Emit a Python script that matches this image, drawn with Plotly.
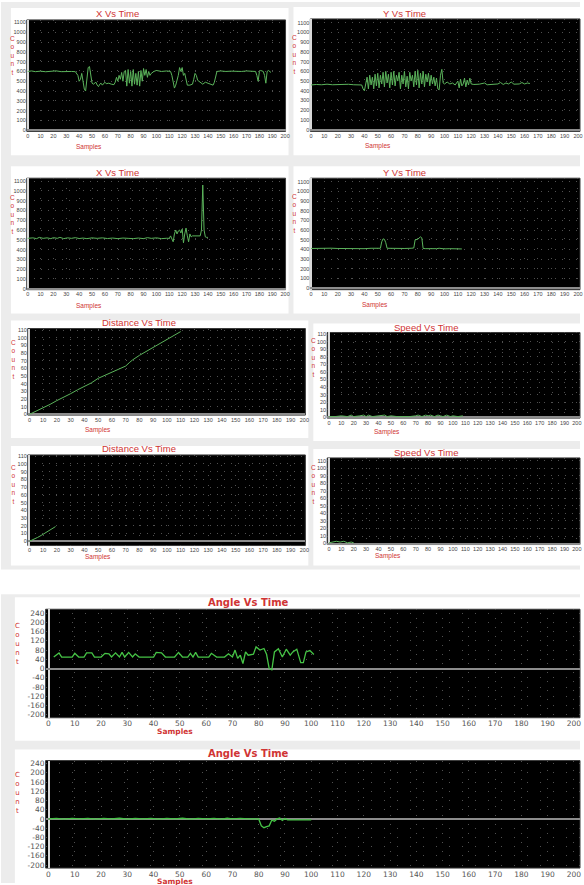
import plotly.graph_objects as go

W, H = 584, 885

# ---------------- data ----------------
x_tick_vals = list(range(0, 201, 10))
x_tick_text = [str(v) for v in x_tick_vals]
count_ticks_big = list(range(0, 1101, 100))
count_text_big = [str(v) for v in count_ticks_big]
count_ticks_small = list(range(0, 111, 10))
count_text_small = [str(v) for v in count_ticks_small]
angle_ticks = list(range(-200, 241, 40))
angle_text = [str(v) for v in angle_ticks]

x1_samples = [0,3,6,10,14,18,22,26,30,34,37,39,40,41,42,43,44,45,46,47,48,49,50,51,53,54,55,56,57,58,60,61,63,65,67,68,69,70,71,72,73,74,75,76,77,78,79,80,81,82,83,84,85,86,87,88,89,90,91,92,93,94,95,96,98,100,104,108,111,112,114,115,116,117,118,119,120,121,122,123,124,126,128,129,130,131,132,133,134,136,138,140,142,144,145,146,147,150,154,158,162,166,170,174,177,178,179,180,181,183,184,185,186,187,188,189]
x1_count = [600,605,598,603,597,602,606,598,602,600,598,560,500,520,580,470,420,400,560,640,650,560,480,470,490,460,445,470,480,460,490,475,480,470,465,490,540,500,560,520,590,500,600,610,450,620,480,600,450,620,470,580,460,600,450,610,500,630,560,620,540,600,560,580,600,610,600,605,600,560,430,460,500,560,640,600,640,560,580,500,460,460,470,520,580,560,510,500,490,470,490,480,470,460,490,560,600,605,600,603,598,600,605,600,600,560,500,600,610,600,560,480,600,610,600,590]

y1_samples = [0,4,8,12,16,20,24,28,32,36,38,39,40,41,42,43,44,45,46,47,48,49,50,51,52,53,54,55,56,57,58,59,60,61,62,63,64,65,66,67,68,69,70,71,72,73,74,75,76,77,78,79,80,81,82,83,84,85,86,87,88,89,90,91,92,93,94,95,96,97,98,99,100,102,104,106,108,110,111,112,113,114,115,116,117,118,119,120,122,126,130,132,136,140,142,144,146,148,150,152,156,158,160,162,164]
y1_count = [460,465,462,468,462,466,463,467,462,465,460,420,400,470,540,420,560,460,540,420,570,450,580,430,560,470,590,440,600,480,570,430,590,460,600,450,560,500,590,420,560,470,600,440,550,420,590,500,560,440,600,460,610,430,580,470,600,440,570,490,580,450,560,470,540,450,530,420,410,560,620,480,470,490,470,480,460,500,430,520,450,470,530,440,510,460,530,470,465,468,480,462,466,470,485,465,480,470,490,468,470,485,470,480,475]

x2_samples = [0,4,7,9,12,15,18,20,23,25,28,31,34,37,40,43,46,50,54,58,62,66,70,74,78,82,86,90,93,96,100,104,108,110,111,112,113,114,115,116,117,118,119,120,121,122,123,124,125,126,127,128,130,132,134,135,136,137,138,139,140]
x2_count = [515,520,512,525,515,520,512,522,515,525,512,520,515,522,513,518,512,520,515,520,513,518,512,518,515,512,518,512,522,515,520,512,516,515,540,500,480,560,600,560,590,600,570,610,470,560,620,540,480,560,530,540,540,540,540,600,1060,600,530,525,525]

y2_samples = [0,5,10,15,20,25,30,35,40,45,50,52,53,54,55,56,57,60,65,70,75,77,78,79,80,81,82,83,84,86,90,94,96,100,104,108,112,113]
y2_count = [410,412,408,413,410,408,412,410,408,412,410,412,480,510,505,470,412,410,412,410,412,415,500,505,505,520,530,520,410,408,405,408,412,406,408,404,406,405]

dist1_samples = [0,5,10,15,20,25,30,35,40,45,50,55,60,65,70,73,75,80,85,90,95,100,105,110]
dist1_value = [0,4,9,13,18,22,27,32,36,41,47,51,55,59,63,68,71,77,82,87,92,98,103,108]

speed1_samples = [0,5,10,15,18,20,25,28,30,32,35,40,45,47,50,55,60,65,70,72,75,78,80,82,85,88,90,92,95,98,100,104,108]
speed1_value = [1,1,2,1,3,1,2,3,1,3,1,2,3,1,2,1,1,1,2,3,1,3,2,3,1,3,2,1,3,1,2,1,2]

dist2_samples = [0,3,6,9,12,15,18,19]
dist2_value = [0,2,5,8,11,14,18,19]

speed2_samples = [0,3,6,9,12,15,18,20]
speed2_value = [1,2,3,2,3,1,2,1]

angle1_samples = [2,4,5,9,10,11.5,13.5,14.5,16.5,17.5,20,21.5,23,24,25.5,27,28,29,30.5,32,33,34.5,40,41,43,44.5,48,49.5,51,53,54,55,56,57,61,62,64,67,68.5,70,71,72,73,74,75,76,78,79,80.5,82,83,84,85,86,87.5,89,90.5,92,93,94.5,96,97,98,99.5,101]
angle1_value = [50,68,50,50,66,50,50,68,68,50,50,66,64,50,68,50,70,50,70,50,64,50,50,70,68,50,50,70,50,50,66,50,70,50,50,66,50,50,64,50,80,44,58,22,72,58,62,94,80,87,62,0,-5,72,86,50,84,58,72,84,26,26,72,78,61]

angle2_samples = [0,3,6,9,12,15,18,21,24,27,30,33,36,39,42,45,48,51,54,57,60,63,66,68,70,73,76,79,80,81,82,83,84,85,86,87,88,89,90,91,93,95,97,100]
angle2_value = [0,2,-1,2,0,2,-1,2,0,3,-1,2,0,2,-1,2,0,3,-1,2,0,2,-1,3,0,2,0,2,0,-30,-38,-33,-30,-5,-10,0,4,-6,2,-4,-3,-5,-4,-4]

# ---------------- layout helpers ----------------
def px(x):
    return x / W

def py(y):
    return 1 - y / H

RED = "#d03434"
NARROW = "Liberation Sans Narrow, Liberation Sans, Arial"
VERD = "DejaVu Sans, Verdana"

panels = [
    dict(t="X Vs Time", xs=x1_samples, ys=x1_count, dx=(26, 287), dy=(18, 130), xr=(-0.7, 200.3), yr=(-13, 1127),
         tv=count_ticks_big, tt=count_text_big, big=False, title=(118, 12), count=(12, 54), samp=(89, 146)),
    dict(t="Y Vs Time", xs=y1_samples, ys=y1_count, dx=(312, 584), dy=(17, 130), xr=(-0.5, 201.5), yr=(-17, 1138),
         tv=count_ticks_big, tt=count_text_big, big=False, title=(407, 12), count=(296, 53), samp=(380, 145)),
    dict(t="X Vs Time", xs=x2_samples, ys=x2_count, dx=(26, 287), dy=(177, 289), xr=(-0.7, 200.3), yr=(-10, 1130),
         tv=count_ticks_big, tt=count_text_big, big=False, title=(118, 171), count=(12, 213), samp=(89, 305)),
    dict(t="Y Vs Time", xs=y2_samples, ys=y2_count, dx=(312, 584), dy=(177, 289), xr=(-0.5, 201.5), yr=(-17, 1138),
         tv=count_ticks_big, tt=count_text_big, big=False, title=(407, 171), count=(296, 212), samp=(377, 304)),
    dict(t="Distance Vs Time", xs=dist1_samples, ys=dist1_value, dx=(27, 307), dy=(328, 415), xr=(-1.2, 200.7), yr=(-1, 112),
         tv=count_ticks_small, tt=count_text_small, big=False, title=(139, 322), count=(13, 359), samp=(98, 430)),
    dict(t="Speed Vs Time", xs=speed1_samples, ys=speed1_value, dx=(329, 584), dy=(332, 418), xr=(-1.4, 202.5), yr=(-1, 112),
         tv=count_ticks_small, tt=count_text_small, big=False, title=(429, 327), count=(315, 357), samp=(389, 432)),
    dict(t="Distance Vs Time", xs=dist2_samples, ys=dist2_value, dx=(27, 307), dy=(455, 546), xr=(-1.2, 200.7), yr=(-5.5, 111.5),
         tv=count_ticks_small, tt=count_text_small, big=False, title=(139, 449), count=(13, 485), samp=(98, 558)),
    dict(t="Speed Vs Time", xs=speed2_samples, ys=speed2_value, dx=(329, 584), dy=(458, 545), xr=(-1.4, 202.5), yr=(-1.3, 113.5),
         tv=count_ticks_small, tt=count_text_small, big=False, title=(429, 453), count=(315, 485), samp=(390, 557)),
    dict(t="Angle Vs Time", xs=angle1_samples, ys=angle1_value, dx=(45, 584), dy=(610, 719), xr=(-1.1, 202.3), yr=(-213, 257),
         tv=angle_ticks, tt=angle_text, big=True, title=(250, 603), count=(17, 645), samp=(176, 733)),
    dict(t="Angle Vs Time", xs=angle2_samples, ys=angle2_value, dx=(45, 584), dy=(762, 870), xr=(-1.1, 202.3), yr=(-213, 253),
         tv=angle_ticks, tt=angle_text, big=True, title=(250, 755), count=(17, 795), samp=(176, 883)),
]

cards = [
    (10, 6, 290, 154), (295, 5, 584, 154),
    (10, 165, 290, 313), (295, 165, 584, 313),
    (10, 320, 310, 438), (315, 323, 584, 441),
    (10, 446, 310, 566), (315, 449, 584, 566),
    (14, 598, 584, 742), (14, 751, 584, 885),
]

fig = go.Figure()
layout = dict(width=W, height=H, margin=dict(l=0, r=0, t=0, b=0),
              paper_bgcolor="#ffffff", plot_bgcolor="rgba(0,0,0,0)", showlegend=False)
shapes = []
annotations = []

# page background bands
shapes.append(dict(type="rect", xref="paper", yref="paper", x0=0, x1=1, y0=py(570), y1=1,
                   fillcolor="#ececec", line_width=0, layer="below"))
shapes.append(dict(type="rect", xref="paper", yref="paper", x0=0, x1=1, y0=0, y1=py(595),
                   fillcolor="#ececec", line_width=0, layer="below"))
for (a, b, c, d) in cards:
    shapes.append(dict(type="rect", xref="paper", yref="paper", x0=px(a), x1=px(c), y0=py(d), y1=py(b),
                       fillcolor="#ffffff", line_width=0, layer="below"))

for i, p in enumerate(panels, start=1):
    sx = "" if i == 1 else str(i)
    xname, yname = "xaxis" + sx, "yaxis" + sx
    big = p["big"]
    tick_font = dict(family=VERD if big else NARROW, size=7.5 if big else 5.5, color="#555" if big else "#444")
    layout[xname] = dict(domain=[px(p["dx"][0]), px(p["dx"][1])], range=list(p["xr"]), anchor="y" + sx,
                         tickmode="array", tickvals=x_tick_vals, ticktext=x_tick_text, tickangle=0,
                         showgrid=True, gridcolor="#505050", griddash="1px,8px" if big else "1px,9px", gridwidth=1,
                         zeroline=True, zerolinecolor="#d8d8d8", zerolinewidth=1.5,
                         showline=False, ticks="", tickfont=tick_font, fixedrange=True)
    layout[yname] = dict(domain=[py(p["dy"][1]), py(p["dy"][0])], range=list(p["yr"]), anchor="x" + sx,
                         tickmode="array", tickvals=p["tv"], ticktext=p["tt"],
                         showgrid=True, gridcolor="#505050", griddash="1px,12px" if big else "1px,6px", gridwidth=1,
                         zeroline=True, zerolinecolor="#8c8c8c", zerolinewidth=2 if big else 1.5,
                         showline=False, ticks="", tickfont=tick_font, fixedrange=True)
    # black plotting area
    shapes.append(dict(type="rect", xref="x" + sx + " domain", yref="y" + sx + " domain",
                       x0=0, x1=1, y0=0, y1=1, fillcolor="#000000",
                       line=dict(color="#3a3a3a", width=1), layer="below"))
    fig.add_trace(go.Scatter(x=p["xs"], y=p["ys"], mode="lines",
                             line=dict(color="#46c446" if big else "#5bb35b", width=1.3 if big else 1),
                             xaxis="x" + sx, yaxis="y" + sx, hoverinfo="skip"))
    # title
    annotations.append(dict(text=("<b>%s</b>" % p["t"]) if big else p["t"], xref="paper", yref="paper",
                            x=px(p["title"][0]), y=py(p["title"][1]), xanchor="center", yanchor="middle",
                            showarrow=False,
                            font=dict(family=VERD if big else NARROW, size=10 if big else 9.5, color=RED)))
    # vertical "Count"
    annotations.append(dict(text="<br>".join(list("Count")), xref="paper", yref="paper",
                            x=px(p["count"][0]), y=py(p["count"][1]), xanchor="center", yanchor="middle",
                            showarrow=False, align="center",
                            font=dict(family=VERD if big else NARROW, size=7 if big else 6.5, color=RED)))
    # "Samples"
    annotations.append(dict(text=("<b>Samples</b>" if big else "Samples"), xref="paper", yref="paper",
                            x=px(p["samp"][0]), y=py(p["samp"][1]), xanchor="center", yanchor="middle",
                            showarrow=False,
                            font=dict(family=VERD if big else NARROW, size=7.5 if big else 6.5, color=RED)))

layout["shapes"] = shapes
layout["annotations"] = annotations
fig.update_layout(**layout)
fig.write_html("out.html", config={"displayModeBar": False},
               post_script="document.body.style.margin='0';document.body.style.overflow='hidden';")
